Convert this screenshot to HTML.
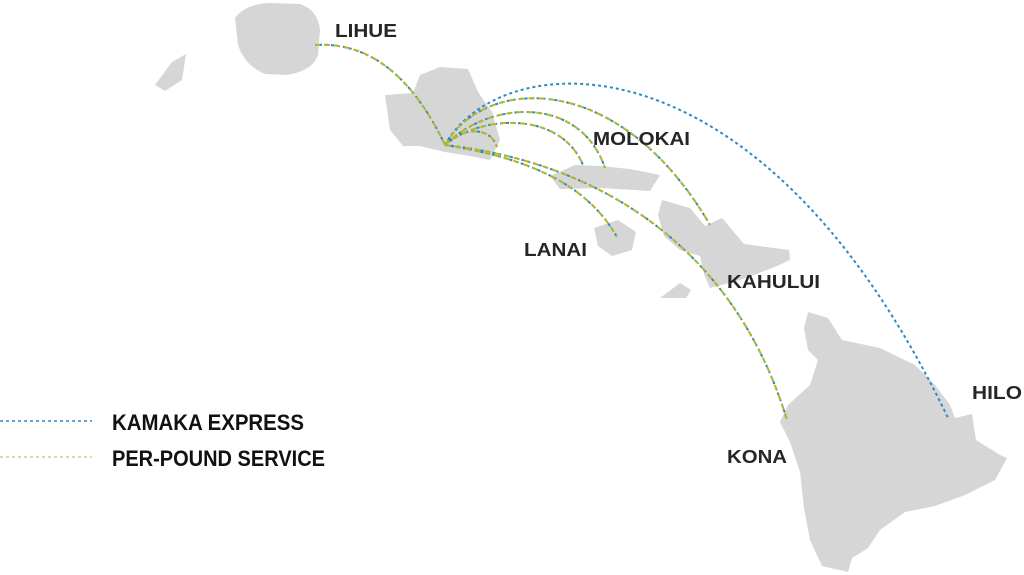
<!DOCTYPE html>
<html><head><meta charset="utf-8"><style>
html,body{margin:0;padding:0;background:#fff;}
svg{display:block}
text{font-family:"Liberation Sans",sans-serif;font-weight:bold;fill:#262626}
</style></head><body>
<svg width="1024" height="575" viewBox="0 0 1024 575" xmlns="http://www.w3.org/2000/svg">
<g fill="#d6d6d6">
<path d="M235,18 Q245,4 270,3 L300,4 Q318,10 320,30 L318,55 Q312,72 285,75 L265,74 Q245,66 238,45 Z"/>
<path d="M155,85 L172,62 L186,54 L182,80 L165,91 Z"/>
<path d="M385,95 L413,93 L420,75 L440,67 L468,69 L478,92 L492,112 L500,140 L490,160 L470,156 L445,152 L420,146 L403,146 L390,130 Z"/>
<path d="M550,176 L575,165 L600,166 L630,169 L660,175 L650,191 L600,188 L560,189 Z"/>
<path d="M594,228 L618,220 L636,232 L632,250 L612,256 L598,246 Z"/>
<path d="M662,200 L690,208 L705,226 L722,218 L744,244 L789,250 L790,260 L775,267 L740,280 L710,288 L704,274 L700,256 L680,250 L664,236 L658,215 Z"/>
<path d="M660,298 L680,283 L691,290 L686,298 Z"/>
<path d="M808,312 L828,318 L842,340 L880,348 L915,365 L935,385 L950,405 L955,418 L972,414 L976,440 L1000,455 L1007,458 L995,480 L965,495 L935,506 L905,512 L880,530 L868,548 L852,558 L848,572 L822,566 L810,540 L804,508 L800,472 L790,442 L780,422 L788,405 L810,385 L818,360 L808,350 L804,328 Z"/>
</g>
<g fill="none" stroke-width="2">
<g stroke="#2a8ac4" stroke-dasharray="3 3">
<path d="M445,145 C500,45 760,25 948,418"/>
<path d="M445,145 Q395,40 315,45"/>
<path d="M445,145 C485,75 620,70 710,225"/>
<path d="M445,145 C490,100 580,95 605,168"/>
<path d="M445,145 C480,115 560,110 583,165"/>
<path d="M445,145 C460,128 490,125 497,147"/>
<path d="M445,145 C620,165 740,265 787,420"/>
<path d="M445,145 C540,160 590,190 617,237"/>
</g>
<g stroke="#b0b830" stroke-dasharray="6 4">
<path d="M445,145 Q395,40 315,45"/>
<path d="M445,145 C485,75 620,70 710,225"/>
<path d="M445,145 C490,100 580,95 605,168"/>
<path d="M445,145 C480,115 560,110 583,165"/>
<path d="M445,145 C460,128 490,125 497,147"/>
<path d="M445,145 C620,165 740,265 787,420"/>
<path d="M445,145 C540,160 590,190 617,237"/>
</g>
<line x1="0" y1="421" x2="92" y2="421" stroke="#2a8ac4" stroke-dasharray="3 3" stroke-width="1.5"/>
<line x1="0" y1="457" x2="92" y2="457" stroke="#d8cc80" stroke-dasharray="3 3" stroke-width="1.5"/>
</g>
<g font-size="18">
<text x="335" y="37" textLength="62" lengthAdjust="spacingAndGlyphs">LIHUE</text>
<text x="593" y="145" textLength="97" lengthAdjust="spacingAndGlyphs">MOLOKAI</text>
<text x="524" y="256" textLength="63" lengthAdjust="spacingAndGlyphs">LANAI</text>
<text x="727" y="288" textLength="93" lengthAdjust="spacingAndGlyphs">KAHULUI</text>
<text x="972" y="399" textLength="50" lengthAdjust="spacingAndGlyphs">HILO</text>
<text x="727" y="463" textLength="60" lengthAdjust="spacingAndGlyphs">KONA</text>
</g>
<text x="112" y="430" font-size="22" textLength="192" lengthAdjust="spacingAndGlyphs" style="fill:#111">KAMAKA EXPRESS</text>
<text x="112" y="466" font-size="22" textLength="213" lengthAdjust="spacingAndGlyphs" style="fill:#111">PER-POUND SERVICE</text>
</svg>
</body></html>
